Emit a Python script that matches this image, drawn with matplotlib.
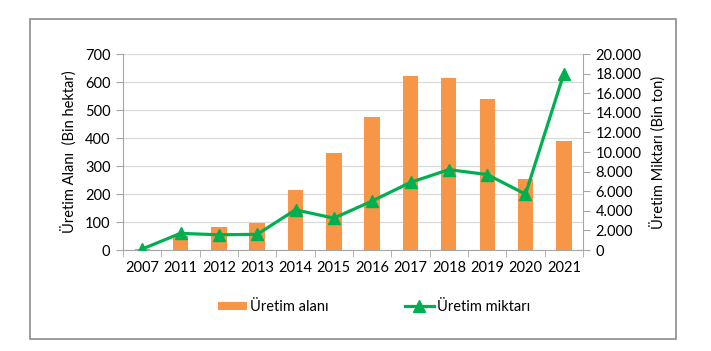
import matplotlib
matplotlib.use("Agg")
import matplotlib.pyplot as plt
from matplotlib.patches import Rectangle
from matplotlib.ticker import FuncFormatter, MultipleLocator, FixedLocator
import numpy as np

plt.rcParams['font.family'] = ['Lato', 'DejaVu Sans']

years = ['2007', '2011', '2012', '2013', '2014', '2015', '2016', '2017', '2018', '2019', '2020', '2021']
area = [3, 50, 83, 97, 213, 346, 474, 623, 614, 538, 254, 388]
production = [100, 1700, 1550, 1600, 4100, 3250, 5000, 6900, 8200, 7700, 5700, 18000]

bar_color = '#F79646'
line_color = '#00B050'
grid_color = '#D9D9D9'
axis_color = '#A6A6A6'

fig = plt.figure(figsize=(7.11, 3.51), dpi=100)
fig.patch.set_facecolor('white')
fig.add_artist(Rectangle((30/711, 1-339/351), (676-30)/711, (339-19)/351,
                         transform=fig.transFigure, fill=False, edgecolor='#8C8C8C', linewidth=1.2))

ax = fig.add_axes([123/711, 1-250/351, (583-123)/711, (250-54)/351])
x = np.arange(len(years))
ax.bar(x, area, width=0.4, color=bar_color, label='Üretim alanı', zorder=2)
ax.set_xlim(-0.5, len(years)-0.5)
ax.set_ylim(0, 700)
ax.yaxis.set_major_locator(MultipleLocator(100))
ax.grid(axis='y', color=grid_color, linewidth=0.9, zorder=0)
ax.set_axisbelow(True)
for s in ['top', 'right']:
    ax.spines[s].set_visible(False)
ax.spines['left'].set_color(axis_color)
ax.spines['bottom'].set_color(axis_color)
ax.set_xticks(x)
ax.set_xticklabels(years)
ax.tick_params(axis='x', length=0, labelsize=10.5, pad=8)
ax.xaxis.set_minor_locator(FixedLocator(np.arange(-0.5, len(years), 1)))
ax.tick_params(axis='x', which='minor', length=5, color=axis_color)
ax.tick_params(axis='y', length=5, color=axis_color, labelsize=10.5, pad=4)
ax.set_ylabel('Üretim Alanı  (Bin hektar)', fontsize=10.5, labelpad=6)

ax2 = ax.twinx()
ax2.plot(x, production, color=line_color, linewidth=2.3, marker='^', markersize=8,
         label='Üretim miktarı', zorder=3)
ax2.set_ylim(0, 20000)
ax2.yaxis.set_major_locator(MultipleLocator(2000))
ax2.yaxis.set_major_formatter(FuncFormatter(lambda v, p: '0' if v == 0 else f'{int(v):,}'.replace(',', '.')))
for s in ['top', 'left', 'bottom']:
    ax2.spines[s].set_visible(False)
ax2.spines['right'].set_color(axis_color)
ax2.tick_params(axis='y', length=5, color=axis_color, labelsize=10.5, pad=4)
ax2.set_ylabel('Üretim Miktarı (Bin ton)', fontsize=10.5, labelpad=6)

h1, l1 = ax.get_legend_handles_labels()
h2, l2 = ax2.get_legend_handles_labels()
fig.legend(h1 + h2, l1 + l2, loc='center', bbox_to_anchor=(374/711, 1-307/351), ncol=2,
           frameon=False, fontsize=10.5, columnspacing=5.2, handlelength=2.0,
           handleheight=0.5, handletextpad=0.2)

fig.savefig('out.png', dpi=100)
